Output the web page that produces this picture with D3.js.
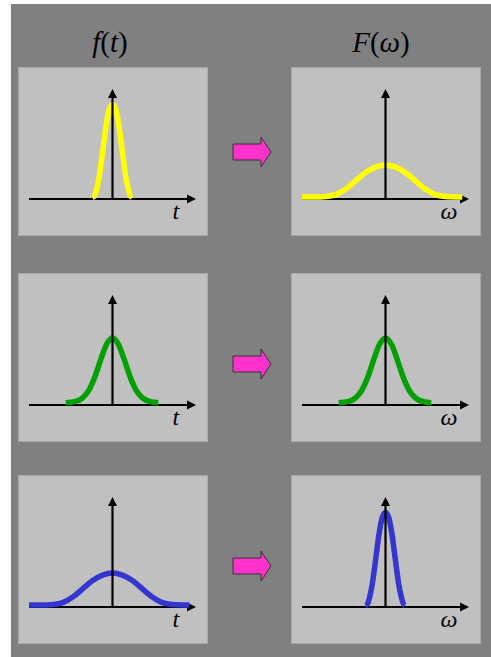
<!DOCTYPE html>
<html>
<head>
<meta charset="utf-8">
<script src="https://cdn.jsdelivr.net/npm/d3@7"></script>
<style>
  html, body { margin: 0; padding: 0; background: #fff; }
  svg { display: block; }
</style>
</head>
<body>
<svg id="chart" width="491" height="657"></svg>
<script>
"use strict";

// pulse shapes (x in t / omega units, y as amplitude)
const narrowX = [-1.2, -1.07, -0.95, -0.8, -0.6, -0.4, -0.2, 0, 0.2, 0.4, 0.6, 0.8, 0.95, 1.07, 1.17];
const narrowY = [0.015, 0.03, 0.09, 0.2, 0.42, 0.65, 0.81, 0.86, 0.81, 0.65, 0.42, 0.2, 0.09, 0.03, 0.015];

const mediumX = [-2.8, -2.26, -1.79, -1.43, -1.07, -0.71, -0.36, 0, 0.36, 0.71, 1.07, 1.43, 1.79, 2.26, 2.74];
const mediumY = [0.02, 0.03, 0.065, 0.13, 0.25, 0.41, 0.55, 0.61, 0.55, 0.41, 0.25, 0.13, 0.065, 0.03, 0.02];

const wideX = [-5.0, -4.29, -3.57, -2.98, -2.38, -1.79, -1.19, -0.6, 0, 0.6, 1.19, 1.79, 2.38, 2.98, 3.57, 4.6];
const wideY = [0.018, 0.018, 0.023, 0.04, 0.09, 0.165, 0.24, 0.29, 0.31, 0.29, 0.24, 0.165, 0.09, 0.04, 0.023, 0.018];

const rowColors = ["#ffff00", "#00a000", "#3535d0"];
const leftShapes = ["narrow", "medium", "wide"];   // f(t)
const rightShapes = ["wide", "medium", "narrow"];  // F(omega)
const axisLabels = ["t", "ω"];

const shapes = {
  narrow: narrowX.map((x, i) => [x, narrowY[i]]),
  medium: mediumX.map((x, i) => [x, mediumY[i]]),
  wide: wideX.map((x, i) => [x, wideY[i]])
};

// layout
const panelW = 190, panelH = 168;
const colLeft = [18, 291];
const rowTop = [67, 273, 475];
const arrowY = [152, 364, 566];

const svg = d3.select("#chart");

svg.append("rect")
  .attr("x", 11).attr("y", 4)
  .attr("width", 480).attr("height", 653)
  .attr("fill", "#808080");

// column titles
const serif = "'Liberation Serif', 'DejaVu Serif', serif";
const titleF = svg.append("text")
  .attr("x", 110).attr("y", 52)
  .attr("text-anchor", "middle")
  .attr("font-family", serif).attr("font-size", 29);
titleF.append("tspan").attr("font-style", "italic").text("f");
titleF.append("tspan").text("(");
titleF.append("tspan").attr("font-style", "italic").text("t");
titleF.append("tspan").text(")");

const titleW = svg.append("text")
  .attr("x", 381).attr("y", 52)
  .attr("text-anchor", "middle")
  .attr("font-family", serif).attr("font-size", 29);
titleW.append("tspan").attr("font-style", "italic").text("F");
titleW.append("tspan").text("(");
titleW.append("tspan").attr("font-style", "italic").text("ω");
titleW.append("tspan").text(")");

function drawPanel(left, top, shapeName, color, label) {
  const g = svg.append("g");

  g.append("rect")
    .attr("x", left + 0.5).attr("y", top + 0.5)
    .attr("width", panelW - 1).attr("height", panelH)
    .attr("fill", "#c0c0c0")
    .attr("stroke", "#a9a9a9")
    .attr("stroke-width", 1);

  const x = d3.scaleLinear().domain([-5, 5]).range([left + 11, left + 178]);
  const y = d3.scaleLinear().domain([0, 1]).range([top + 132, top + 22]);

  const x0 = x(0), y0 = y(0);
  const head = 9, hw = 4.5;

  // horizontal axis
  g.append("line")
    .attr("x1", x(-5)).attr("y1", y0)
    .attr("x2", x(5) - head + 1).attr("y2", y0)
    .attr("stroke", "#000").attr("stroke-width", 2.2);
  g.append("path")
    .attr("d", `M${x(5)},${y0} L${x(5) - head},${y0 - hw} L${x(5) - head},${y0 + hw} Z`)
    .attr("fill", "#000");

  // pulse
  const line = d3.line()
    .x(d => x(d[0]))
    .y(d => y(d[1]))
    .curve(d3.curveMonotoneX);
  g.append("path")
    .datum(shapes[shapeName])
    .attr("d", line)
    .attr("fill", "none")
    .attr("stroke", color)
    .attr("stroke-width", 5.5)
    .attr("stroke-linejoin", "round");

  // vertical axis
  g.append("line")
    .attr("x1", x0).attr("y1", y0)
    .attr("x2", x0).attr("y2", y(1) + head - 1)
    .attr("stroke", "#000").attr("stroke-width", 2.2);
  g.append("path")
    .attr("d", `M${x0},${y(1)} L${x0 - hw},${y(1) + head} L${x0 + hw},${y(1) + head} Z`)
    .attr("fill", "#000");

  g.append("text")
    .attr("x", x(3.8)).attr("y", y0 + 20)
    .attr("text-anchor", "middle")
    .attr("font-family", serif)
    .attr("font-style", "italic")
    .attr("font-size", 24)
    .text(label);
}

rowTop.forEach((top, i) => {
  drawPanel(colLeft[0], top, leftShapes[i], rowColors[i], axisLabels[0]);
  drawPanel(colLeft[1], top, rightShapes[i], rowColors[i], axisLabels[1]);

  // magenta arrow between the panels
  const cy = arrowY[i];
  const p = d3.path();
  p.moveTo(233, cy - 8);
  p.lineTo(261, cy - 8);
  p.lineTo(261, cy - 15);
  p.lineTo(271, cy);
  p.lineTo(261, cy + 15);
  p.lineTo(261, cy + 8);
  p.lineTo(233, cy + 8);
  p.closePath();
  svg.append("path")
    .attr("d", p.toString())
    .attr("fill", "#ff33cc")
    .attr("stroke", "#333")
    .attr("stroke-width", 1);
});
</script>
</body>
</html>
